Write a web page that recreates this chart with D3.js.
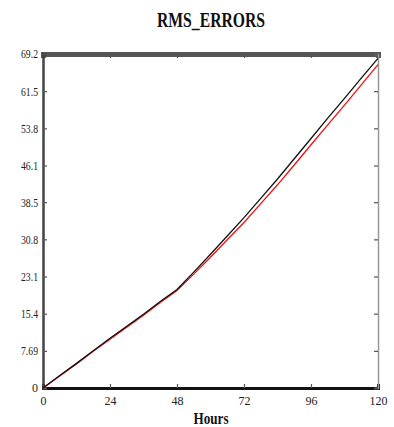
<!DOCTYPE html>
<html>
<head>
<meta charset="utf-8">
<script src="https://cdn.jsdelivr.net/npm/d3@7"></script>
<style>
  body { margin: 0; background: #fff; }
  svg { display: block; }
  text { -webkit-font-smoothing: antialiased; }
</style>
</head>
<body>
<div id="viz-container"></div>
<script>
// data
let hours = [0, 6, 12, 18, 24, 30, 36, 42, 48, 54, 60, 66, 72, 78, 84, 90, 96, 102, 108, 114, 120];
let blackSeries = [0, 2.6, 5.1, 7.7, 10.3, 12.8, 15.3, 17.9, 20.4, 24.0, 27.7, 31.5, 35.3, 39.3, 43.3, 47.5, 51.7, 55.9, 60.0, 64.2, 68.3];
let redSeries = [0, 2.5, 5.0, 7.6, 10.1, 12.6, 15.1, 17.7, 20.2, 23.6, 27.1, 30.7, 34.3, 38.2, 42.1, 46.2, 50.4, 54.5, 58.6, 62.8, 67.0];
let xTicks = [0, 24, 48, 72, 96, 120];
let yTicks = [0, 7.69, 15.4, 23.1, 30.8, 38.5, 46.1, 53.8, 61.5, 69.2];
let yTickLabels = ["0", "7.69", "15.4", "23.1", "30.8", "38.5", "46.1", "53.8", "61.5", "69.2"];

let viz = d3.select("#viz-container")
  .append("svg")
    .attr("width", 394)
    .attr("height", 427)
;

let plotLeft = 43, plotRight = 378, plotTop = 54, plotBottom = 388;

let x = d3.scaleLinear().domain([0, 120]).range([plotLeft, plotRight]);
let y = d3.scaleLinear().domain([0, 69.2]).range([plotBottom, plotTop]);

// title
viz.append("text")
  .attr("x", 211)
  .attr("y", 27)
  .attr("text-anchor", "middle")
  .attr("font-family", "Liberation Serif")
  .attr("font-weight", "bold")
  .attr("font-size", 20)
  .attr("textLength", 108)
  .attr("lengthAdjust", "spacingAndGlyphs")
  .attr("fill", "#111")
  .text("RMS_ERRORS");

// axes, ticks pointing inward
let bottomAxis = d3.axisBottom(x).tickValues(xTicks).tickSize(-4).tickPadding(8);
let topAxis = d3.axisTop(x).tickValues(xTicks).tickSize(-4).tickFormat("");
let leftAxis = d3.axisLeft(y).tickValues(yTicks).tickSize(-4).tickPadding(5)
  .tickFormat((d, i) => yTickLabels[i]);
let rightAxis = d3.axisRight(y).tickValues(yTicks).tickSize(-4).tickFormat("");

let gx = viz.append("g").attr("transform", "translate(0," + plotBottom + ")").call(bottomAxis);
let gt = viz.append("g").attr("transform", "translate(0," + plotTop + ")").call(topAxis);
let gy = viz.append("g").attr("transform", "translate(" + plotLeft + ",0)").call(leftAxis);
let gr = viz.append("g").attr("transform", "translate(" + plotRight + ",0)").call(rightAxis);

[gx, gt, gy, gr].forEach(g => {
  g.attr("color", "#222");
  g.selectAll(".tick line").attr("stroke", "#555").attr("stroke-width", 1.2);
  g.selectAll("text")
    .attr("font-family", "Liberation Serif")
    .attr("font-size", 12)
    .attr("fill", "#222");
});
gy.selectAll(".tick text").filter(d => d > 0)
  .attr("textLength", 17).attr("lengthAdjust", "spacingAndGlyphs");
gx.select(".domain").attr("stroke", "#111").attr("stroke-width", 3);
gt.select(".domain").attr("stroke", "#555").attr("stroke-width", 5);
gy.select(".domain").attr("stroke", "#444").attr("stroke-width", 2.5);
gr.select(".domain").attr("stroke", "#999").attr("stroke-width", 1.5);

// lines
let seriesLine = d3.line().x((d, i) => x(hours[i])).y(d => y(d));

viz.append("path")
  .datum(redSeries)
  .attr("d", seriesLine)
  .attr("fill", "none")
  .attr("stroke", "#f01010")
  .attr("stroke-width", 1.3);

viz.append("path")
  .datum(blackSeries)
  .attr("d", seriesLine)
  .attr("fill", "none")
  .attr("stroke", "#111")
  .attr("stroke-width", 1.3);

// x label
viz.append("text")
  .attr("x", 211)
  .attr("y", 424)
  .attr("text-anchor", "middle")
  .attr("font-family", "Liberation Serif")
  .attr("font-weight", "bold")
  .attr("font-size", 17)
  .attr("textLength", 35)
  .attr("lengthAdjust", "spacingAndGlyphs")
  .attr("fill", "#111")
  .text("Hours");
</script>
</body>
</html>
